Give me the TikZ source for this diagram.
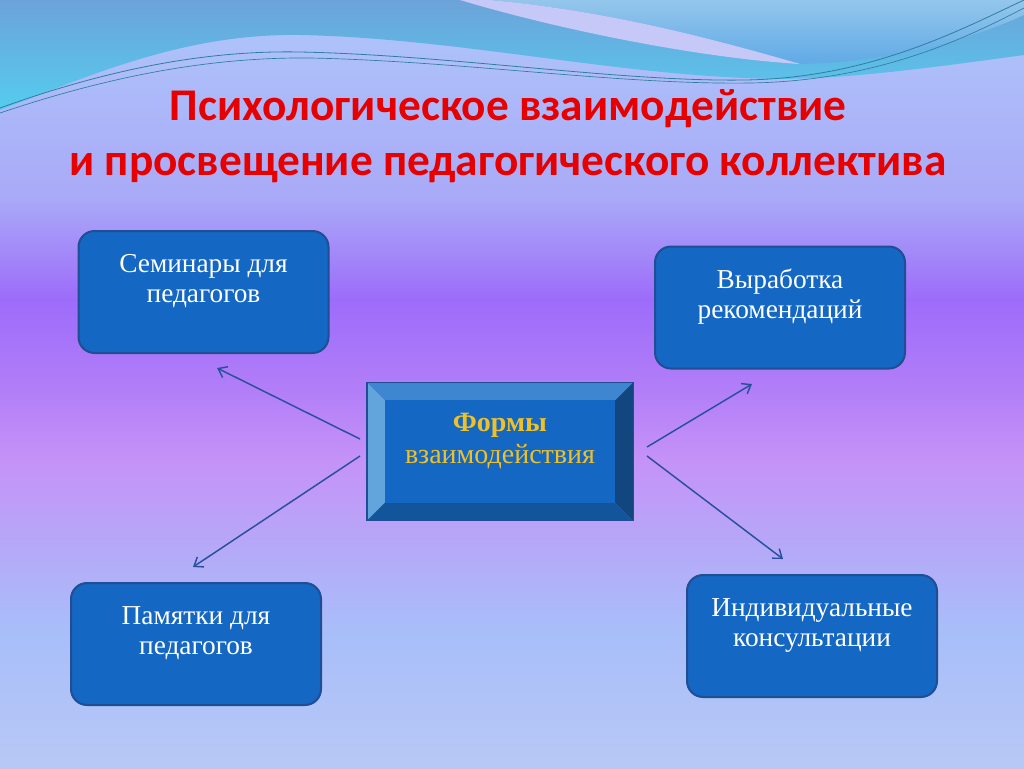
\documentclass[tikz,border=0pt]{standalone}
\usepackage{fontspec}
\setmainfont{Liberation Serif}
\newfontfamily\titlefont{Carlito}
\usetikzlibrary{positioning, arrows.meta}

\definecolor{titlered}{HTML}{E60000}
\definecolor{boxblue}{HTML}{1467C2}
\definecolor{boxline}{HTML}{1F4E94}
\definecolor{formgold}{HTML}{EEC02A}
\definecolor{arrowblue}{HTML}{2A4F9C}
\definecolor{bevtop}{HTML}{3F86D0}
\definecolor{bevleft}{HTML}{62A4DC}
\definecolor{bevright}{HTML}{12467F}
\definecolor{bevbot}{HTML}{13559A}
\definecolor{bgA}{HTML}{AFC8FA}
\definecolor{bgB}{HTML}{A9A9F8}
\definecolor{bgC}{HTML}{9D6CFA}
\definecolor{bgD}{HTML}{B27EF8}
\definecolor{bgE}{HTML}{C592F8}
\definecolor{bgF}{HTML}{B6A8F8}
\definecolor{bgG}{HTML}{A8BEF9}
\definecolor{bgH}{HTML}{B8C8F6}
\definecolor{wavetop}{HTML}{6CA3D9}
\definecolor{wavecyan}{HTML}{55CCEF}
\definecolor{wavelight}{HTML}{94C6EC}
\definecolor{wavemid}{HTML}{60AAE6}
\definecolor{wavelav}{HTML}{C6C8F8}
\definecolor{waveline}{HTML}{2F7E9E}

\tikzstyle{arrow} = [line width=1.1pt, arrowblue, -{Straight Barb[length=6pt,width=9pt]}]
\tikzstyle{infobox} = [draw=boxline, line width=1.5pt, fill=boxblue, rounded corners=12pt, minimum width=187.5pt, minimum height=91.5pt]
\tikzstyle{boxtext} = [text=white, align=center, inner sep=0pt, font=\fontsize{20.5}{22.5}\selectfont]
\tikzstyle{formbox} = [draw=boxline, line width=0.8pt, minimum width=198.75pt, minimum height=102.75pt]
\tikzstyle{formtext} = [text=formgold, align=center, inner sep=0pt, font=\fontsize{21}{24}\selectfont]

\begin{document}
\begin{tikzpicture}[x=0.75pt, y=-0.75pt]
    \useasboundingbox (0,0) rectangle (1024,768);

    % background
    \shade[top color=bgA, bottom color=bgB] (0,0) rectangle (1024,200);
    \shade[top color=bgB, bottom color=bgC] (0,199) rectangle (1024,300);
    \shade[top color=bgC, bottom color=bgD] (0,299) rectangle (1024,390);
    \shade[top color=bgD, bottom color=bgE] (0,389) rectangle (1024,460);
    \shade[top color=bgE, bottom color=bgF] (0,459) rectangle (1024,545);
    \shade[top color=bgF, bottom color=bgG] (0,544) rectangle (1024,630);
    \shade[top color=bgG, bottom color=bgH] (0,629) rectangle (1024,768);

    % waves at the top
    \shade[top color=wavetop, bottom color=wavecyan] (0,0) -- (1024,0) -- (1024,55)
        .. controls (900,72) and (820,82) .. (745,78)
        .. controls (600,72) and (450,38) .. (300,35)
        .. controls (180,33) and (80,80) .. (0,110) -- cycle;
    \shade[top color=wavelight, bottom color=wavemid] (490,0)
        .. controls (600,10) and (700,35) .. (800,64)
        .. controls (900,62) and (980,35) .. (1024,15) -- (1024,0) -- cycle;
    \fill[wavelav] (460,0) -- (490,0)
        .. controls (600,10) and (700,35) .. (800,64)
        .. controls (700,58) and (560,30) .. (460,0) -- cycle;
    \draw[waveline, line width=0.6pt] (0,108) .. controls (100,72) and (200,50) .. (300,52)
        .. controls (450,55) and (620,82) .. (745,80)
        .. controls (870,78) and (960,30) .. (1024,0);
    \draw[waveline, line width=0.5pt] (0,113) .. controls (110,76) and (210,57) .. (310,58)
        .. controls (460,61) and (620,85) .. (750,83)
        .. controls (880,81) and (970,36) .. (1024,8);

    % title
    \node[text=titlered, align=center, font=\titlefont\bfseries\fontsize{34}{41.5}\selectfont] (title) at (508,136)
        {Психологическое взаимодействие\\и просвещение педагогического коллектива};

    % centre block
    \node[formbox] (forms) at (500,451.5) {};
    \fill[bevtop] (forms.north west) -- (forms.north east) -- ([shift={(-18,18)}]forms.north east) -- ([shift={(18,18)}]forms.north west) -- cycle;
    \fill[bevleft] (forms.north west) -- ([shift={(18,18)}]forms.north west) -- ([shift={(18,-18)}]forms.south west) -- (forms.south west) -- cycle;
    \fill[bevright] (forms.north east) -- (forms.south east) -- ([shift={(-18,-18)}]forms.south east) -- ([shift={(-18,18)}]forms.north east) -- cycle;
    \fill[bevbot] (forms.south west) -- ([shift={(18,-18)}]forms.south west) -- ([shift={(-18,-18)}]forms.south east) -- (forms.south east) -- cycle;
    \fill[boxblue] ([shift={(18,18)}]forms.north west) rectangle ([shift={(-18,-18)}]forms.south east);
    \draw[boxline, line width=0.8pt] (forms.north west) rectangle (forms.south east);
    \node[formtext] (forms-t) at ([yshift=8pt]forms.center) {\textbf{Формы}\\взаимодействия};

    % outer boxes
    \node[infobox] (sem) at (203.5,292) {};
    \node[boxtext] (sem-t) at ([yshift=8pt]sem.center) {Семинары для\\педагогов};
    \node[infobox] (rec) at (780,307.5) {};
    \node[boxtext] (rec-t) at ([yshift=8pt]rec.center) {Выработка\\рекомендаций};
    \node[infobox] (pam) at (196,644) {};
    \node[boxtext] (pam-t) at ([yshift=8pt]pam.center) {Памятки для\\педагогов};
    \node[infobox] (ind) at (812,636) {};
    \node[boxtext] (ind-t) at ([yshift=8pt]ind.center) {Индивидуальные\\консультации};

    % arrows
    \coordinate (forms-w1) at (360,439);
    \coordinate (forms-w2) at (360,456);
    \coordinate (forms-e1) at (647,447);
    \coordinate (forms-e2) at (647,456);
    \coordinate (sem-in) at (217,368);
    \coordinate (pam-in) at (193,567);
    \coordinate (rec-in) at (752,384);
    \coordinate (ind-in) at (783,559);
    \draw[arrow] (forms-w1) -- (sem-in);
    \draw[arrow] (forms-w2) -- (pam-in);
    \draw[arrow] (forms-e1) -- (rec-in);
    \draw[arrow] (forms-e2) -- (ind-in);
\end{tikzpicture}
\end{document}
